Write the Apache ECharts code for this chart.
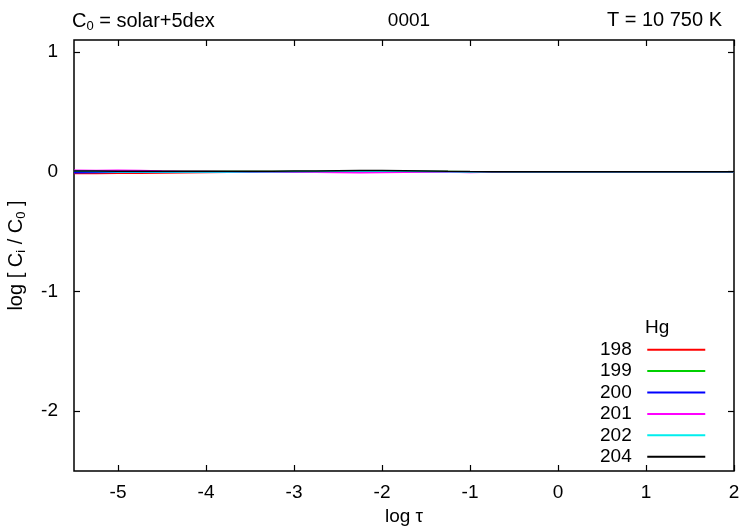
<!DOCTYPE html>
<html lang="en">
<head>
    <meta charset="UTF-8">
    <title>Hg isotopes</title>
    <style>
        *{
            margin:0;
            padding:0;
            box-sizing:border-box;
        }
        html, body{
            height:100%;
            width:100%;
            background:#fff;
        }
        #myChart{
            height:526px;
            width:742px;
        }
    </style>
</head>
<body>
<div id="myChart"></div>
<script src="https://cdn.jsdelivr.net/npm/echarts@6/dist/echarts.min.js"></script>
<script>
    // log tau grid
    var logTau = [-5.5, -5.25, -5.0, -4.75, -4.5, -4.25, -4.0, -3.75, -3.5, -3.25, -3.0, -2.75, -2.5, -2.25, -2.0, -1.75, -1.5, -1.25, -1.0, -0.75, -0.5, 0, 0.5, 1, 1.5, 2];

    // log [Ci/C0] per isotope
    var hg198 = [-0.015, -0.015, -0.012, -0.012, -0.010, -0.008, -0.006, -0.005, -0.004, -0.003, -0.003, -0.002, -0.002, -0.003, -0.004, -0.003, -0.002, -0.001, 0, 0, 0, 0, 0, 0, 0, 0];
    var hg199 = [0.005, 0.004, 0.003, 0.002, 0.002, 0.001, 0.001, 0.001, 0.001, 0.001, 0.002, 0.002, 0.003, 0.003, 0.002, 0.002, 0.001, 0.001, 0, 0, 0, 0, 0, 0, 0, 0];
    var hg200 = [-0.008, -0.006, -0.005, -0.004, -0.004, -0.003, -0.003, -0.003, -0.002, -0.002, -0.002, -0.003, -0.004, -0.005, -0.005, -0.004, -0.003, -0.002, -0.001, 0, 0, 0, 0, 0, 0, 0];
    var hg201 = [0.012, 0.010, 0.012, 0.010, 0.005, 0.002, 0.001, 0, -0.001, -0.002, -0.003, -0.004, -0.006, -0.008, -0.006, -0.005, -0.004, -0.003, -0.006, -0.002, 0, 0, 0, 0, 0, 0];
    var hg202 = [0.003, 0.002, -0.002, -0.003, -0.003, -0.003, -0.003, -0.002, -0.001, 0, 0.001, 0.002, 0.003, 0.004, 0.004, 0.003, 0.001, -0.001, -0.002, 0, 0, 0, 0, 0, 0, 0];
    var hg204 = [0.006, 0.005, 0.004, 0.004, 0.003, 0.003, 0.003, 0.003, 0.003, 0.004, 0.005, 0.006, 0.008, 0.010, 0.010, 0.008, 0.006, 0.003, 0.001, 0, 0, 0, 0, 0, 0, 0];

    var isotopes = ['198', '199', '200', '201', '202', '204'];
    var values = [hg198, hg199, hg200, hg201, hg202, hg204];
    var colors = ['#ff0000', '#00d000', '#0000ff', '#ff00ff', '#00eeee', '#000000'];

    var xTicks = [-5, -4, -3, -2, -1, 0, 1, 2];
    var yTicks = [-2, -1, 0, 1];

    var font = 'Liberation Sans, Arial, sans-serif';

    function pairs(xs, ys) {
        return xs.map(function(x, i) { return [x, ys[i]]; });
    }

    var series = isotopes.map(function(name, i) {
        return {
            name:name,
            type:'line',
            data:pairs(logTau, values[i]),
            showSymbol:false,
            symbol:'none',
            animation:false,
            lineStyle:{ color:colors[i], width:1.5 },
            itemStyle:{ color:colors[i] }
        };
    });

    function ticks(vals) {
        return { show:true, inside:true, length:6, customValues:vals, lineStyle:{ color:'#000', width:1.2 } };
    }

    var myChart = echarts.init(document.getElementById('myChart'));
    var option = {
        animation:false,
        grid:{
            left:74,
            right:8,
            top:40,
            bottom:55,
            outerBoundsMode:'none',
            show:true,
            borderColor:'#000',
            borderWidth:1.5,
            backgroundColor:'transparent'
        },
        title:[
            {
                text:'{n|C}{s|0}{n| = solar+5dex}',
                left:67,
                top:4,
                textStyle:{
                    fontWeight:'normal',
                    rich:{
                        n:{ fontFamily:font, fontSize:20, fontWeight:'normal', color:'#000', lineHeight:24 },
                        s:{ fontFamily:font, fontSize:13, fontWeight:'normal', color:'#000', lineHeight:13, verticalAlign:'bottom' }
                    }
                }
            },
            {
                text:'0001',
                left:404,
                textAlign:'center',
                top:6,
                textStyle:{ fontFamily:font, fontSize:19, fontWeight:'normal', color:'#000' }
            },
            {
                text:'T = 10 750 K',
                right:15,
                top:5,
                textStyle:{ fontFamily:font, fontSize:20, fontWeight:'normal', color:'#000' }
            }
        ],
        legend:{
            orient:'vertical',
            left:595,
            top:334,
            align:'right',
            itemWidth:58,
            itemHeight:2,
            itemGap:0,
            icon:'rect',
            data:isotopes,
            formatter:function(n) { return n + '  '; },
            textStyle:{ fontFamily:font, fontSize:19, color:'#000', lineHeight:21.4 }
        },
        graphic:[
            {
                type:'text',
                left:645,
                top:318,
                style:{ text:'Hg', font:'19px ' + font, fill:'#000' }
            }
        ],
        xAxis:[
            {
                type:'value',
                min:-5.5,
                max:2,
                name:'log τ',
                nameLocation:'middle',
                nameGap:36,
                nameTextStyle:{ fontFamily:font, fontSize:19, color:'#000' },
                axisLine:{ show:false, onZero:false },
                axisTick:ticks(xTicks),
                axisLabel:{ customValues:xTicks, margin:12, fontFamily:font, fontSize:19, color:'#000' },
                splitLine:{ show:false }
            },
            {
                type:'value',
                position:'top',
                min:-5.5,
                max:2,
                axisLine:{ show:false, onZero:false },
                axisTick:ticks(xTicks),
                axisLabel:{ show:false },
                splitLine:{ show:false }
            }
        ],
        yAxis:[
            {
                type:'value',
                min:-2.5,
                max:1.1,
                name:'{n|log [ C}{s|i}{n| / C}{s|0}{n| ]}',
                nameLocation:'middle',
                nameGap:46,
                nameRotate:90,
                nameTextStyle:{
                    rich:{
                        n:{ fontFamily:font, fontSize:20, color:'#000', lineHeight:24 },
                        s:{ fontFamily:font, fontSize:13, color:'#000', lineHeight:13, verticalAlign:'bottom' }
                    }
                },
                axisLine:{ show:false, onZero:false },
                axisTick:ticks(yTicks),
                axisLabel:{ customValues:yTicks, margin:16, fontFamily:font, fontSize:19, color:'#000' },
                splitLine:{ show:false }
            },
            {
                type:'value',
                position:'right',
                min:-2.5,
                max:1.1,
                axisLine:{ show:false, onZero:false },
                axisTick:ticks(yTicks),
                axisLabel:{ show:false },
                splitLine:{ show:false }
            }
        ],
        series:series
    };
    myChart.setOption(option);
</script>
</body>
</html>
